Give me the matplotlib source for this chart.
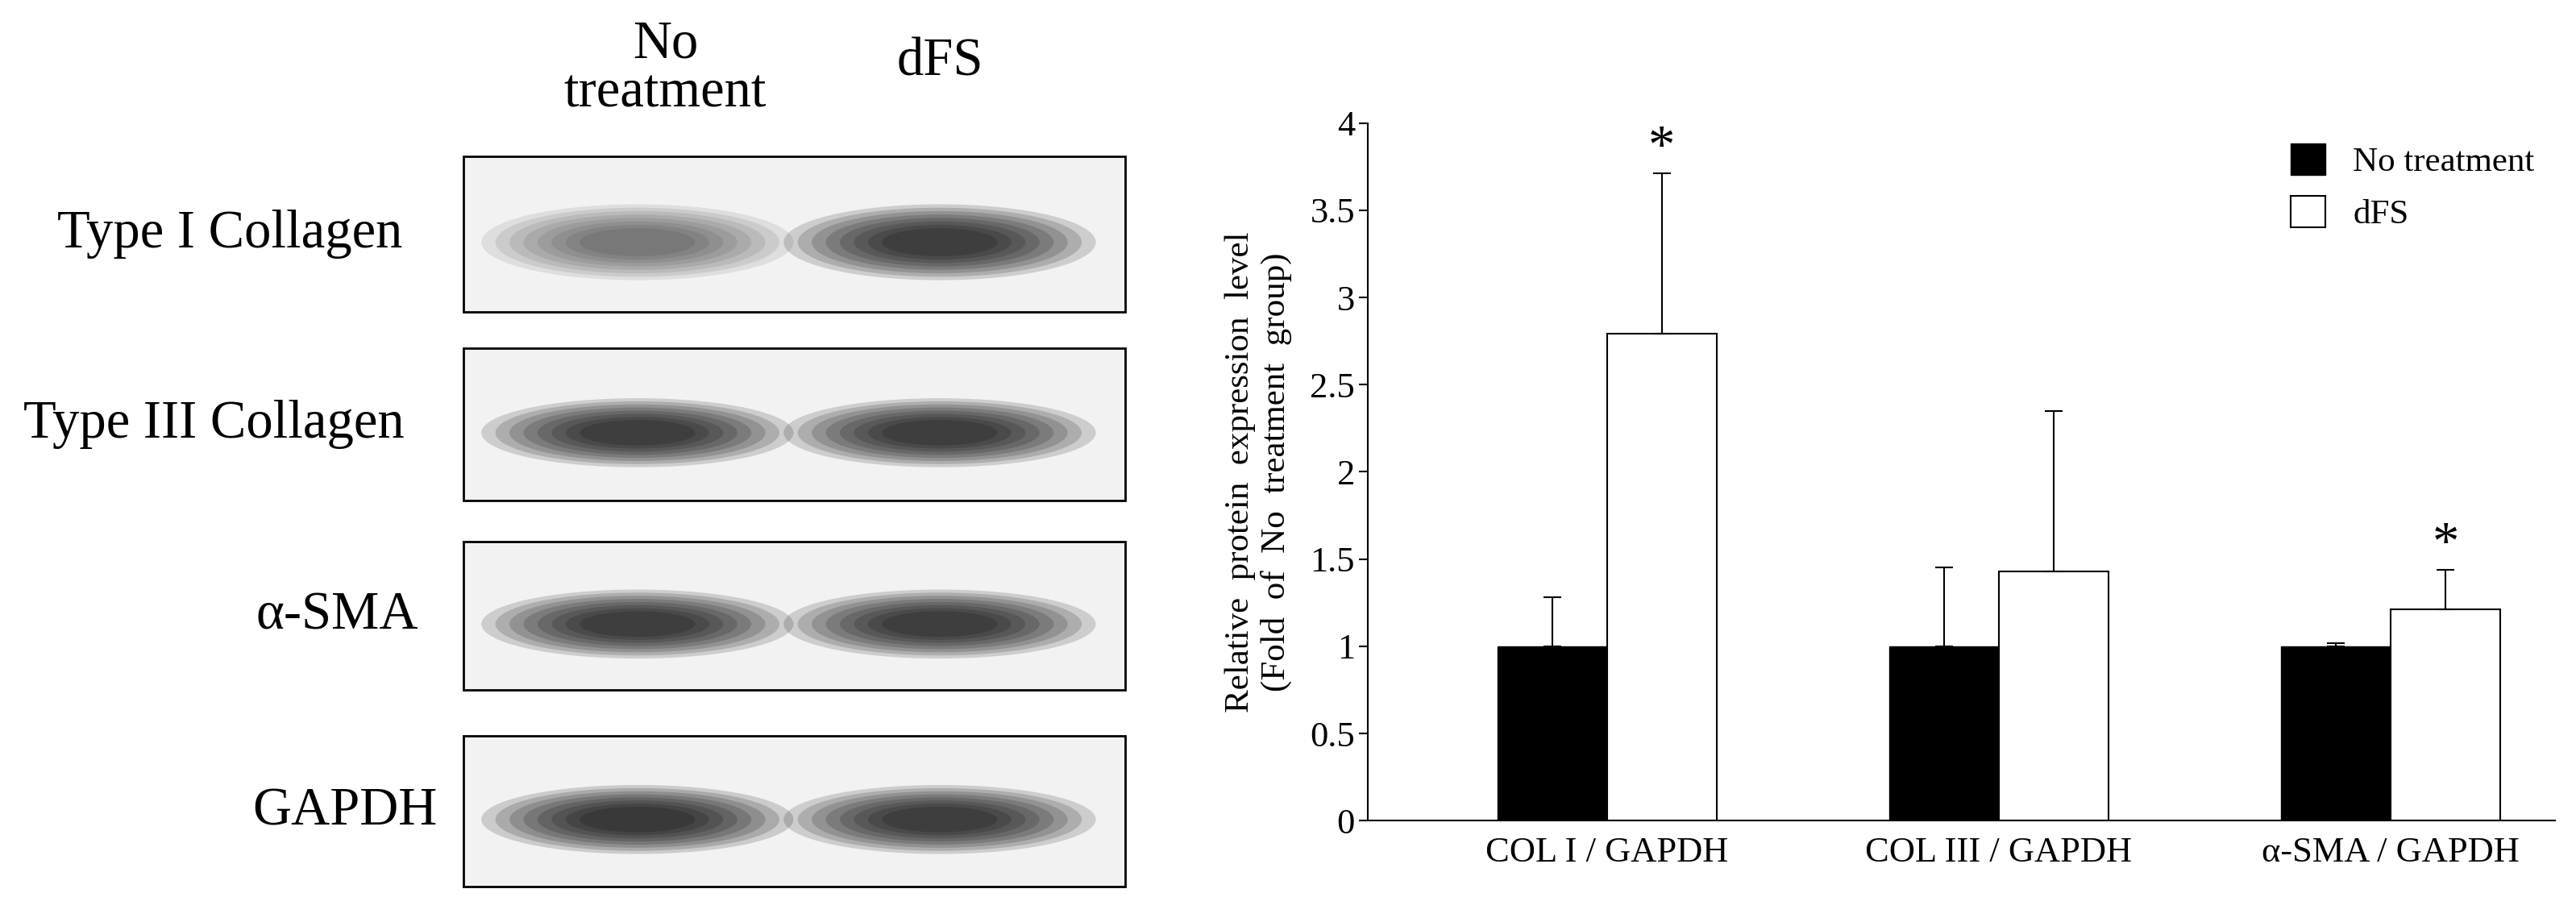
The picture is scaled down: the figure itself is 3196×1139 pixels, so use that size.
import matplotlib
matplotlib.use("Agg")
import matplotlib.pyplot as plt
from matplotlib.patches import Rectangle, Ellipse

plt.rcParams["font.family"] = ["Liberation Serif", "DejaVu Serif"]

groups = ["COL I / GAPDH", "COL III / GAPDH", "α-SMA / GAPDH"]
no_treat = [1.0, 1.0, 1.0]
no_treat_err = [0.28, 0.45, 0.02]
dfs = [2.79, 1.43, 1.21]
dfs_err = [0.92, 0.92, 0.23]
dfs_sig = [True, False, True]

blot_labels = ["Type I Collagen", "Type III Collagen", "α-SMA", "GAPDH"]
lane_labels = ["No\ntreatment", "dFS"]
# band darkness per blot per lane (visual estimate)
band_dark = [[0.35, 0.95], [0.95, 0.95], [0.95, 0.95], [1.0, 0.95]]

W, H = 1568, 559
fig = plt.figure(figsize=(31.96, 11.39), dpi=100)

# ---- western blot panel drawn in display-pixel coords of the reference ----
ov = fig.add_axes([0, 0, 1, 1])
ov.set_xlim(0, W)
ov.set_ylim(H, 0)
ov.axis("off")
boxes = [(95, 190), (212, 305), (330, 420), (448, 540)]
lane_x = [388, 572]
label_x = [140, 130, 205, 210]
for i, (y0, y1) in enumerate(boxes):
    ov.add_patch(Rectangle((282, y0), 403, y1 - y0, fc="#f2f2f2", ec="black", lw=2))
    yc = (y0 + y1) / 2 + 5
    for j, lx in enumerate(lane_x):
        d = band_dark[i][j]
        for k in range(8):
            s = 1 - k * 0.09
            ov.add_patch(Ellipse((lx, yc), 190 * s, 42 * s * (1.1 if i == 0 else 1),
                                 fc="black", ec="none", alpha=0.12 * d + 0.04))
    ov.text(label_x[i], (y0 + y1) / 2, blot_labels[i], ha="center", va="center", fontsize=48)
for lx, t in zip([405, 572], lane_labels):
    ov.text(lx, 42 if "\n" in t else 38, t, ha="center", va="center", fontsize=48,
            linespacing=1.0)

# ---- bar chart ----
ax = fig.add_axes([0.531, 0.106, 0.461, 0.76])
x = range(len(groups))
w = 0.28
xl = [i - w / 2 for i in x]
xr = [i + w / 2 for i in x]
ax.bar(xl, no_treat, w, color="black", edgecolor="black", label="No treatment")
ax.bar(xr, dfs, w, color="white", edgecolor="black", lw=1.5, label="dFS")
ax.errorbar(xl, no_treat, yerr=[[0] * 3, no_treat_err], fmt="none", ecolor="black",
            capsize=8, elinewidth=1.5, capthick=1.5)
ax.errorbar(xr, dfs, yerr=[[0] * 3, dfs_err], fmt="none", ecolor="black",
            capsize=8, elinewidth=1.5, capthick=1.5)
for xi, v, e, s in zip(xr, dfs, dfs_err, dfs_sig):
    if s:
        ax.text(xi, v + e + 0.0, "*", ha="center", va="bottom", fontsize=48)
ax.set_xlim(-0.61, 2.42)
ax.set_ylim(0, 4)
ax.set_yticks([0, 0.5, 1, 1.5, 2, 2.5, 3, 3.5, 4])
ax.set_yticklabels(["0", "0.5", "1", "1.5", "2", "2.5", "3", "3.5", "4"])
ax.set_xticks(list(x))
ax.set_xticklabels(groups)
ax.tick_params(labelsize=32, length=8, width=1.5)
ax.tick_params(axis="x", length=0, pad=14)
ax.set_ylabel("Relative  protein  expression  level\n(Fold  of  No  treatment  group)",
              fontsize=31, labelpad=16)
for sp in ["top", "right"]:
    ax.spines[sp].set_visible(False)
for sp in ["left", "bottom"]:
    ax.spines[sp].set_linewidth(1.5)
ax.legend(loc="upper right", frameon=False, fontsize=31, handlelength=1.0,
          handleheight=1.0, borderaxespad=0.2)

fig.savefig("out.png", dpi=100)
plt.close()
